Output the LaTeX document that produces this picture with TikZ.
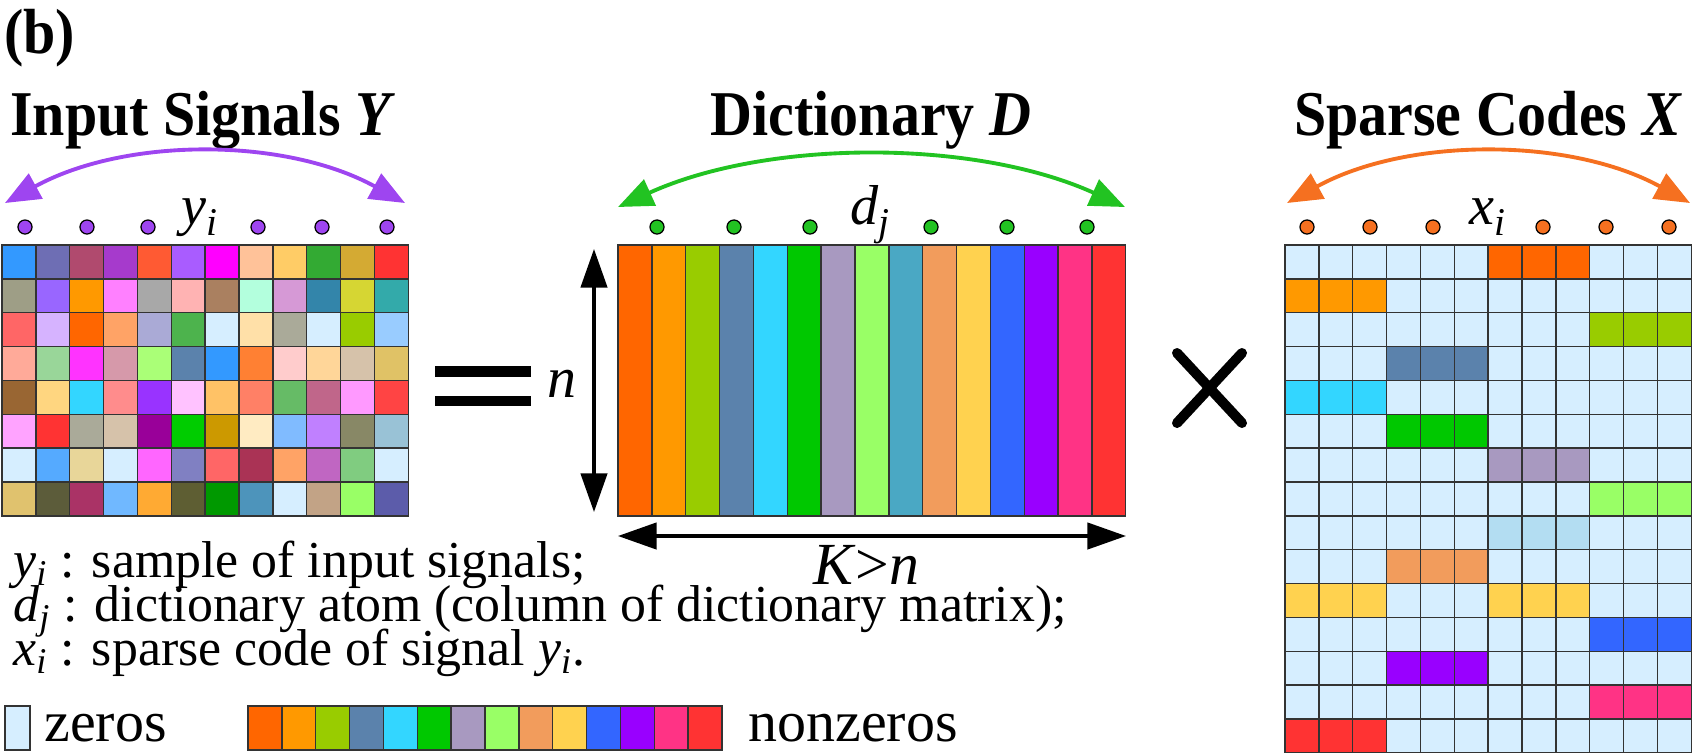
\documentclass[tikz,border=0pt]{standalone}
\usepackage{graphicx}
\usepackage{fontspec}
\setmainfont{Liberation Serif}
\usetikzlibrary{positioning,arrows.meta}

\definecolor{zerocol}{HTML}{D6EEFF}
\definecolor{arcpurple}{HTML}{9E45F0}
\definecolor{arcgreen}{HTML}{22C322}
\definecolor{arcorange}{HTML}{F57020}
\definecolor{gridcol}{HTML}{333333}

\newcommand{\ivar}[2]{\textit{#1}\textsubscript{\textit{#2}}}
\newcommand{\setcell}[1]{\edef\tmpdef{\noexpand\definecolor{cellfill}{HTML}{#1}}\tmpdef}
\newcommand{\tall}[1]{\scalebox{1}[1.1]{#1}}

\tikzset{
  cellline/.style={draw=gridcol, line width=0.8pt},
  headtext/.style={font=\fontsize{33}{38}\selectfont\bfseries, anchor=base, inner sep=0pt},
  lbl/.style={font=\fontsize{32}{36}\selectfont\itshape, anchor=base, inner sep=0pt},
  notetext/.style={font=\fontsize{29.5}{34}\selectfont, anchor=base west, inner sep=0pt},
  spanarc/.style={line width=2.2pt, {Triangle[length=20pt,width=16pt]}-{Triangle[length=20pt,width=16pt]}},
  sizearrow/.style={line width=1.9pt, {Triangle[length=22pt,width=15pt]}-{Triangle[length=22pt,width=15pt]}},
  seqdot/.style={circle, draw=black, line width=0.7pt, inner sep=0pt, minimum size=8pt},
}

\begin{document}
\begin{tikzpicture}[x=0.02cm, y=-0.02cm]
  \useasboundingbox (0,0) rectangle (1693,754);

  % input signals Y
  \foreach \rowcols [count=\r from 0] in {
    {3399FF,6E6EB4,B04A6E,A63ACC,FF5A33,A95CFF,FF00FF,FFC299,FFCC66,33AA33,D4AA33,FF3333},
    {9E9E86,9966FF,FF9900,FF80FF,A8A8A8,FFB3B3,AA8060,B3FFDD,D699D6,3385AA,D6D633,33AAAA},
    {FF6666,D6B3FF,FF6600,FFA366,AAAAD6,4DB34D,D6EEFF,FFE0A8,AAAA99,D6EEFF,99CC00,99CCFF},
    {FFAA99,99D699,FF33FF,D699AA,AAFF77,5B82AC,3399FF,FF8033,FFCCCC,FFD699,D6C2AA,E0C266},
    {996633,FFD680,33D6FF,FF8C8C,9933FF,FFC2FF,FFC266,FF8066,66BB66,C0668A,FF99FF,FF4444},
    {FFA3FF,FF3333,AAAA99,D6C2AA,990099,00CC00,CC9900,FFEBC2,80BBFF,C080FF,888866,99C2D6},
    {D6EEFF,55AAFF,E8D699,D6EEFF,FF66FF,8080C2,FF6666,AA3355,FFA366,C066C2,80CC80,D6EEFF},
    {E0C26E,5C5C3A,AA3366,70B8FF,FFAA33,5E5E33,009900,4D94BB,D6EEFF,C2A386,99FF66,5C5CAA}}{
    \foreach \hex [count=\c from 0] in \rowcols {
      \setcell{\hex}
      \filldraw[cellline, fill=cellfill] ({2+\c*33.85},{245+\r*33.85}) rectangle ++(33.85,33.85);
    }
  }

  % dictionary D
  \foreach \hex [count=\c from 0] in {FF6600,FF9900,99CC00,5B82AC,33D6FF,00C800,A899C0,99FF66,4AA8C4,F29C5C,FFD24F,3366FF,9900FF,FF3385,FF3333}{
    \setcell{\hex}
    \filldraw[cellline, fill=cellfill] ({618+\c*33.85},245) rectangle ++(33.85,270.8);
  }

  % sparse codes X
  \foreach \r in {0,...,14}
    \foreach \c in {0,...,11}
      \filldraw[cellline, fill=zerocol] ({1285+\c*33.85},{245+\r*33.85}) rectangle ++(33.85,33.85);
  \foreach \r/\g/\hex in {0/2/FF6600,1/0/FF9900,2/3/99CC00,3/1/5B82AC,4/0/33D6FF,5/1/00C800,6/2/A899C0,7/3/99FF66,
      8/2/B3DDF2,9/1/F29C5C,10/0/FFD24F,10/2/FFD24F,11/3/3366FF,12/1/9900FF,13/3/FF3385,14/0/FF3333}{
    \setcell{\hex}
    \foreach \k in {0,1,2}
      \filldraw[cellline, fill=cellfill] ({1285+(\g*3+\k)*33.85},{245+\r*33.85}) rectangle ++(33.85,33.85);
  }

  % headings
  \node[headtext, anchor=base west] (lab-b) at (4,53) {\tall{(b)}};
  \node[headtext, anchor=base west] (head-y) at (10,135) {\tall{Input Signals \textit{Y}}};
  \node[headtext] (head-d) at (871,135) {\tall{Dictionary \textit{D}}};
  \node[headtext] (head-x) at (1488,135) {\tall{Sparse Codes \textit{X}}};

  % sample dots and arcs
  \foreach \xx [count=\i] in {25,87,148,258,322,387}
    \node[seqdot, fill=arcpurple] (ydot\i) at (\xx,227) {};
  \foreach \xx [count=\i] in {657,734,810,931,1007,1087}
    \node[seqdot, fill=arcgreen] (ddot\i) at (\xx,227) {};
  \foreach \xx [count=\i] in {1307,1370,1433,1543,1606,1669}
    \node[seqdot, fill=arcorange] (xdot\i) at (\xx,227) {};
  \node[lbl] (lab-y) at (200,224) {\ivar{y}{i}};
  \node[lbl] (lab-d) at (870,224) {\ivar{d}{j}};
  \node[lbl] (lab-x) at (1488,224) {\ivar{x}{i}};

  \coordinate (yl) at (5,203);    \coordinate (yr) at (405,203);
  \coordinate (dl) at (618,207);  \coordinate (dr) at (1125,207);
  \coordinate (xl) at (1287,203); \coordinate (xr) at (1690,203);
  \draw[spanarc, arcpurple] (yl) .. controls +(120,-66) and +(-120,-66) .. (yr);
  \draw[spanarc, arcgreen] (dl) .. controls +(150,-68) and +(-150,-68) .. (dr);
  \draw[spanarc, arcorange] (xl) .. controls +(120,-66) and +(-120,-66) .. (xr);

  % size arrows
  \coordinate (ntop) at (594,249); \coordinate (nbot) at (594,512);
  \coordinate (kl) at (618,536);   \coordinate (kr) at (1126,536);
  \draw[sizearrow] (ntop) -- (nbot);
  \draw[sizearrow] (kl) -- (kr);
  \node[lbl, font=\fontsize{33}{38}\selectfont\itshape] (lab-n) at (562,397) {n};
  \node[lbl, font=\fontsize{34}{38}\selectfont] (lab-k) at (866,584) {\textit{K}>\textit{n}};

  % equals and times
  \draw[line width=6.2pt] (435,371.5) -- (531,371.5);
  \draw[line width=6.2pt] (435,401) -- (531,401);
  \draw[line width=5.7pt, line cap=round] (1177,353) -- (1242,423);
  \draw[line width=5.7pt, line cap=round] (1177,423) -- (1242,353);

  % notes
  \node[notetext] (note1) at (13,577) {\ivar{y}{i} : sample of input signals;};
  \node[notetext] (note2) at (13,621) {\ivar{d}{j} : dictionary atom (column of dictionary matrix);};
  \node[notetext] (note3) at (13,665) {\ivar{x}{i} : sparse code of signal \ivar{y}{i}.};

  % legend
  \filldraw[cellline, fill=zerocol] (5,706) rectangle ++(25,44);
  \node[notetext, font=\fontsize{33}{36}\selectfont] (leg-zero) at (44,741) {zeros};
  \foreach \hex [count=\c from 0] in {FF6600,FF9900,99CC00,5B82AC,33D6FF,00C800,A899C0,99FF66,F29C5C,FFD24F,3366FF,9900FF,FF3385,FF3333}{
    \setcell{\hex}
    \filldraw[cellline, fill=cellfill] ({248+\c*33.85},706) rectangle ++(33.85,44);
  }
  \node[notetext, font=\fontsize{33}{36}\selectfont] (leg-nonzero) at (748,741) {nonzeros};
\end{tikzpicture}
\end{document}
